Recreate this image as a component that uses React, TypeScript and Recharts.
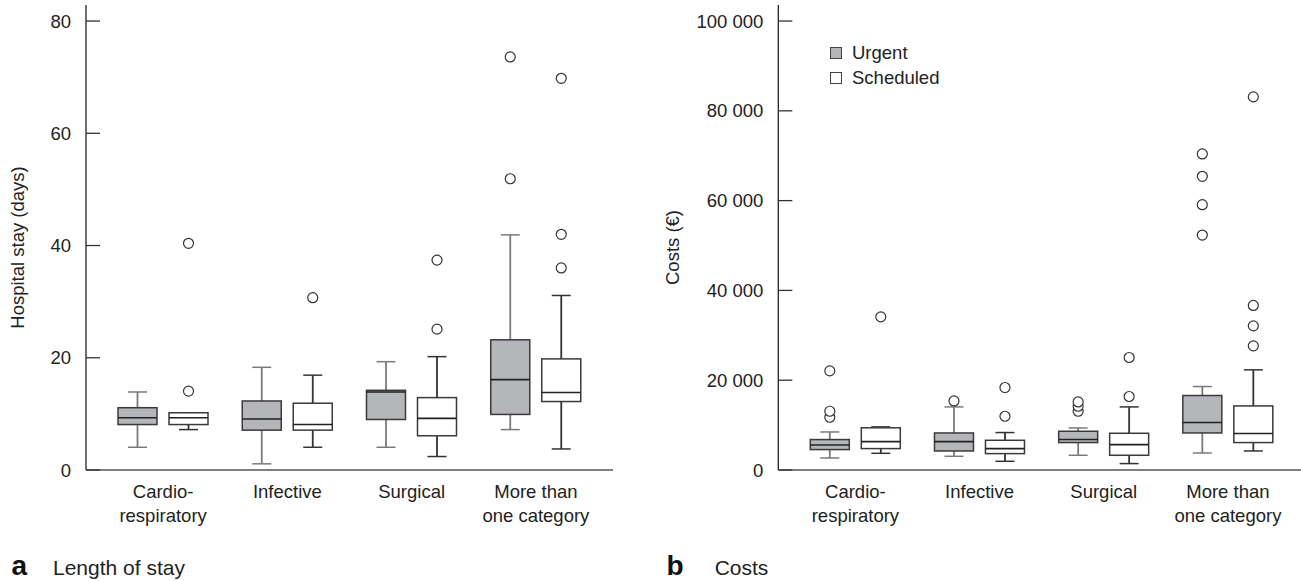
import React from "react";
import { Bar, ComposedChart, Legend, XAxis, YAxis } from "recharts";

const categories = ["Cardio-\nrespiratory", "Infective", "Surgical", "More than\none category"];
const seriesNames = ["Urgent", "Scheduled"];

// each box: [lower whisker, q1, median, q3, upper whisker]
const stayUrgent = [
  [4.05, 8.1, 9.3, 11.1, 13.9],
  [1.1, 7.1, 9.1, 12.3, 18.3],
  [4.05, 9.0, 13.9, 14.2, 19.3],
  [7.2, 9.9, 16.1, 23.2, 41.9],
];
const stayUrgentOutliers = [[], [], [], [51.9, 73.6]];
const stayScheduled = [
  [7.2, 8.1, 9.3, 10.2, 10.2],
  [4.05, 7.1, 8.1, 11.9, 16.9],
  [2.4, 6.1, 9.2, 12.9, 20.2],
  [3.75, 12.2, 13.8, 19.8, 31.1],
];
const stayScheduledOutliers = [[14.05, 40.4], [30.7], [25.1, 37.4], [36.0, 42.0, 69.8]];
const stayTicks = [0, 20, 40, 60, 80];

const costUrgent = [
  [2680, 4550, 5570, 6780, 8470],
  [3050, 4240, 6330, 8250, 14050],
  [3280, 6110, 6780, 8630, 9360],
  [3790, 8250, 10570, 16590, 18590],
];
const costUrgentOutliers = [[11750, 13090, 22070], [15380], [13090, 14200, 15160], [52330, 59090, 65420, 70390]];
const costScheduled = [
  [3720, 4770, 6330, 9400, 9600],
  [1940, 3650, 4770, 6620, 8340],
  [1430, 3280, 5660, 8180, 14050],
  [4240, 6110, 8120, 14270, 22300],
];
const costScheduledOutliers = [[34110], [11970, 18370], [16370, 25060], [27650, 32110, 36650, 83100]];
const costTicks = [0, 20000, 40000, 60000, 80000, 100000];

const FONT = '"Liberation Sans", Arial, Helvetica, sans-serif';
const INK = "#222";
const URGENT_FILL = "#b5b6b9";

function rows(urgent, urgentOut, scheduled, scheduledOut) {
  return categories.map((name, i) => ({
    name,
    urgent: urgent[i],
    urgentOut: urgentOut[i],
    scheduled: scheduled[i],
    scheduledOut: scheduledOut[i],
  }));
}

const stayRows = rows(stayUrgent, stayUrgentOutliers, stayScheduled, stayScheduledOutliers);
const costRows = rows(costUrgent, costUrgentOutliers, costScheduled, costScheduledOutliers);

function boxShape(key: string, fill: string, whisker: string) {
  return (props: any) => {
    const { x, y, width, height, payload } = props;
    const [lo, q1, med, q3, hi] = payload[key];
    const outs: number[] = payload[key + "Out"] || [];
    const k = height / (hi - lo);
    const py = (v: number) => y + height - (v - lo) * k;
    const cx = x + width / 2;
    const cap = 9.5;
    return (
      <g>
        <line x1={cx} x2={cx} y1={py(hi)} y2={py(q3)} stroke={whisker} strokeWidth={1.8} />
        <line x1={cx} x2={cx} y1={py(q1)} y2={py(lo)} stroke={whisker} strokeWidth={1.8} />
        <line x1={cx - cap} x2={cx + cap} y1={py(hi)} y2={py(hi)} stroke={whisker} strokeWidth={1.5} />
        <line x1={cx - cap} x2={cx + cap} y1={py(lo)} y2={py(lo)} stroke={whisker} strokeWidth={1.5} />
        <rect x={x} y={py(q3)} width={width} height={py(q1) - py(q3)} fill={fill} stroke="#3a3a3a" strokeWidth={1.5} />
        <line x1={x} x2={x + width} y1={py(med)} y2={py(med)} stroke="#222" strokeWidth={1.6} />
        {outs.map((v, i) => (
          <circle key={i} cx={cx} cy={py(v)} r={5} fill="#fff" stroke="#333" strokeWidth={1.2} />
        ))}
      </g>
    );
  };
}

const CategoryTick = (props: any) => {
  const { x, y, payload } = props;
  const lines = String(payload.value).split("\n");
  return (
    <text x={x} y={y} textAnchor="middle" fill={INK} fontSize={18.5} fontFamily={FONT}>
      {lines.map((l, i) => (
        <tspan key={i} x={x} dy={i === 0 ? 28.3 : 23.5}>
          {l}
        </tspan>
      ))}
    </text>
  );
};

function axisTitle(text: string, dx: number) {
  return (props: any) => {
    const vb = props.viewBox || { x: 0, y: 5, width: 86, height: 465 };
    const cx = vb.x + dx;
    const cy = vb.y + vb.height / 2 + 10;
    return (
      <text
        x={cx}
        y={cy}
        transform={`rotate(-90, ${cx}, ${cy})`}
        textAnchor="middle"
        fill={INK}
        fontSize={18.5}
        fontFamily={FONT}
      >
        {text}
      </text>
    );
  };
}

const spaced = (v: number) => String(v).replace(/\B(?=(\d{3})+(?!\d))/g, " ");

const LegendBox = (props: any) => {
  const items = [...(props.payload || [])].sort(
    (a: any, b: any) => seriesNames.indexOf(a.value) - seriesNames.indexOf(b.value)
  );
  return (
    <div style={{ fontFamily: FONT, fontSize: 18.5, color: INK }}>
      {items.map((e: any) => (
        <div key={e.value} style={{ display: "flex", alignItems: "center", height: 25 }}>
          <span
            style={{
              display: "inline-block",
              width: 10,
              height: 10,
              border: "1px solid #444",
              background: e.color,
              marginRight: 10,
            }}
          />
          {e.value}
        </div>
      ))}
    </div>
  );
};

function Panel({ data, domain, ticks, title, titleDx, yWidth, width, margin, padding, format, legend }: any) {
  return (
    <ComposedChart width={width} height={581} data={data} margin={margin} barGap={12}>
      <XAxis
        dataKey="name"
        height={111}
        tickSize={0}
        tickMargin={0}
        tickLine={false}
        axisLine={{ stroke: "#555", strokeWidth: 1.5 }}
        padding={padding}
        tick={<CategoryTick />}
        interval={0}
      />
      <YAxis
        width={yWidth}
        domain={domain}
        ticks={ticks}
        type="number"
        tickSize={-14}
        tickMargin={29}
        tickFormatter={format}
        axisLine={{ stroke: INK, strokeWidth: 1.3 }}
        tickLine={{ stroke: "#333", strokeWidth: 1.3 }}
        tick={{ fill: INK, fontSize: 18.5, fontFamily: FONT }}
        label={{ content: axisTitle(title, titleDx) }}
      />
      {legend && (
        <Legend
          layout="vertical"
          align="center"
          verticalAlign="middle"
          content={<LegendBox />}
          wrapperStyle={{ left: 180, top: 40, width: "auto", height: "auto" }}
        />
      )}
      <Bar
        name={seriesNames[0]}
        dataKey={(d: any) => [d.urgent[0], d.urgent[4]]}
        fill={URGENT_FILL}
        barSize={39}
        shape={boxShape("urgent", URGENT_FILL, "#7a7a7a")}
        isAnimationActive={false}
      />
      <Bar
        name={seriesNames[1]}
        dataKey={(d: any) => [d.scheduled[0], d.scheduled[4]]}
        fill="#ffffff"
        barSize={39}
        shape={boxShape("scheduled", "#ffffff", "#333")}
        isAnimationActive={false}
      />
    </ComposedChart>
  );
}

export default function App() {
  return (
    <div style={{ position: "absolute", left: 0, top: 0, width: 1301, height: 581, background: "#fff", overflow: "hidden" }}>
      <div style={{ position: "absolute", left: 0, top: 0 }}>
        <Panel
          data={stayRows}
          domain={[0, 82.86]}
          ticks={stayTicks}
          title="Hospital stay (days)"
          titleDx={24}
          yWidth={86}
          width={640}
          margin={{ top: 5, right: 27, bottom: 0, left: 0 }}
          padding={{ left: 15, right: 15 }}
          format={(v: number) => String(v)}
        />
      </div>
      <div style={{ position: "absolute", left: 650, top: 0 }}>
        <Panel
          data={costRows}
          domain={[0, 103570]}
          ticks={costTicks}
          title="Costs (€)"
          titleDx={29}
          yWidth={128.3}
          width={651}
          margin={{ top: 5, right: 0, bottom: 0, left: 0 }}
          padding={{ left: 15, right: 11 }}
          format={spaced}
          legend
        />
      </div>
      <svg width={1301} height={581} style={{ position: "absolute", left: 0, top: 0, pointerEvents: "none" }}>
        <text x={11.5} y={575} fontFamily={FONT} fontWeight="bold" fontSize={28} fill="#111">a</text>
        <text x={53} y={575} fontFamily={FONT} fontSize={21} fill={INK}>Length of stay</text>
        <text x={666.5} y={575} fontFamily={FONT} fontWeight="bold" fontSize={28} fill="#111">b</text>
        <text x={714.7} y={575} fontFamily={FONT} fontSize={21} fill={INK}>Costs</text>
      </svg>
    </div>
  );
}
